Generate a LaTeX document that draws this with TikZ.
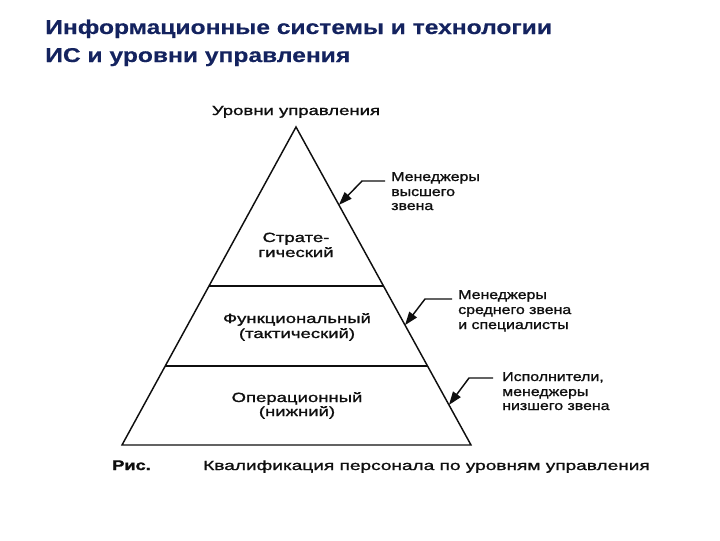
\documentclass[tikz,border=0pt]{standalone}
\usepackage{fontspec}
\setmainfont{Liberation Sans}
\newfontfamily\ctrfont[FakeStretch=1.39,FakeBold=1.3]{Liberation Sans}
\newfontfamily\rgtfont[FakeStretch=1.23,FakeBold=1.3]{Liberation Sans}
\newfontfamily\capfont[FakeStretch=1.43,FakeBold=1.3]{Liberation Sans}
\newfontfamily\risfont[FakeStretch=1.3,FakeBold=1.5]{Liberation Sans Bold}
\newfontfamily\ttlfont[FakeStretch=1.23,FakeBold=0.4]{Liberation Sans Bold}
\usetikzlibrary{arrows.meta,calc}
\definecolor{titleblue}{RGB}{20,35,95}
\definecolor{inkgray}{RGB}{15,15,15}
\tikzset{
  ttl/.style={anchor=base west,inner sep=0pt,text=titleblue,font=\ttlfont\fontsize{15pt}{17pt}\selectfont},
  lbl/.style={anchor=base west,inner sep=0pt,text=inkgray,font=\rgtfont\fontsize{9.7pt}{12pt}\selectfont},
  clbl/.style={anchor=base,inner sep=0pt,text=inkgray,font=\ctrfont\fontsize{10pt}{12pt}\selectfont},
  edge/.style={draw=inkgray,line width=1.1pt},
  pointer/.style={draw=inkgray,line width=1.1pt,-{Triangle[length=10pt,width=7pt]}}
}
\begin{document}
\begin{tikzpicture}[x=0.75pt,y=-0.75pt]
\useasboundingbox (0,0) rectangle (720,540);
% title
\node[ttl] (t1) at (45,34) {Информационные системы и технологии};
\node[ttl] (t2) at (45,62) {ИС и уровни управления};
% pyramid
\coordinate (apex) at (296,127);
\coordinate (bl) at (122,445);
\coordinate (br) at (471,445);
\coordinate (l1) at ($(apex)!0.5!(bl)$);
\coordinate (r1) at ($(apex)!0.5!(br)$);
\coordinate (l2) at ($(apex)!0.7516!(bl)$);
\coordinate (r2) at ($(apex)!0.7516!(br)$);
\draw[edge,line join=miter] (apex) -- (br) -- (bl) -- cycle;
\draw[edge] (l1) -- (r1);
\draw[edge] (l2) -- (r2);
% heading
\node[clbl] (head) at (296,115) {Уровни управления};
% level names
\node[clbl] (s1) at (296,242) {Страте-};
\node[clbl] (s2) at (296,257) {гический};
\node[clbl] (f1) at (297,323) {Функциональный};
\node[clbl] (f2) at (297,338) {(тактический)};
\node[clbl] (o1) at (297,402) {Операционный};
\node[clbl] (o2) at (297,416) {(нижний)};
% right labels
\node[lbl] (a1) at (391,181) {Менеджеры};
\node[lbl] (a2) at (391,196) {высшего};
\node[lbl] (a3) at (391,210) {звена};
\node[lbl] (b1) at (458,299) {Менеджеры};
\node[lbl] (b2) at (458,314) {среднего звена};
\node[lbl] (b3) at (458,329) {и специалисты};
\node[lbl] (c1) at (502,381) {Исполнители,};
\node[lbl] (c2) at (502,396) {менеджеры};
\node[lbl] (c3) at (502,410) {низшего звена};
% pointers
\coordinate (p1s) at (385,181); \coordinate (p1m) at (362,181); \coordinate (p1e) at ($(apex)!0.245!(br)$);
\coordinate (p2s) at (452,299); \coordinate (p2m) at (425,299); \coordinate (p2e) at ($(apex)!0.623!(br)$);
\coordinate (p3s) at (493,378); \coordinate (p3m) at (469,378); \coordinate (p3e) at ($(apex)!0.874!(br)$);
\draw[pointer] (p1s) -- (p1m) -- (p1e);
\draw[pointer] (p2s) -- (p2m) -- (p2e);
\draw[pointer] (p3s) -- (p3m) -- (p3e);
% caption
\node[anchor=base west,inner sep=0pt,text=inkgray,font=\risfont\fontsize{10.5pt}{12pt}\selectfont] (ris) at (112,470) {Рис.};
\node[anchor=base west,inner sep=0pt,text=inkgray,font=\capfont\fontsize{10pt}{12pt}\selectfont] (cap) at (203,470) {Квалификация персонала по уровням управления};
\end{tikzpicture}
\end{document}
